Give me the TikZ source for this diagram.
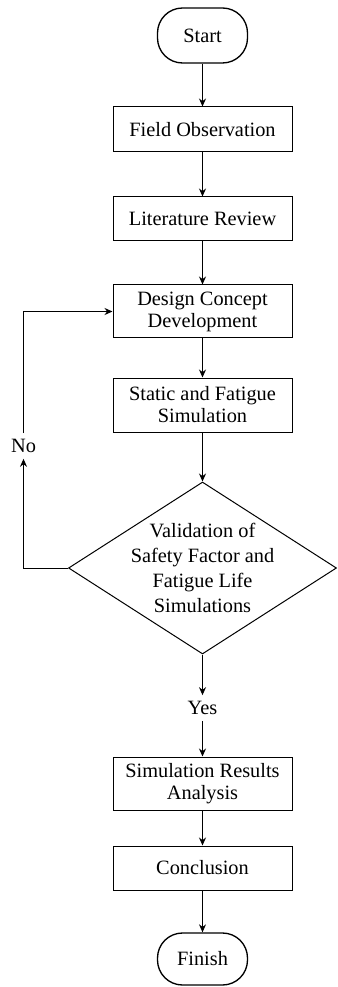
\documentclass[tikz,border=0pt]{standalone}
\usepackage{fontspec}
\setmainfont{Liberation Serif}
\usetikzlibrary{shapes.geometric,arrows.meta}

\begin{document}
\begin{tikzpicture}[x=0.6pt,y=-0.6pt,line width=0.6pt,
    every node/.style={font=\fontsize{12.2}{13.2}\selectfont},
    terminal/.style={draw,line width=0.8pt,rounded corners=15pt,minimum width=54pt,minimum height=33pt,inner sep=0pt},
    stepbox/.style={draw,align=center,minimum width=107.4pt,inner sep=0pt},
    decision/.style={draw,diamond,align=center,aspect=1.56,inner sep=-8pt,minimum width=160.8pt,minimum height=103.2pt,font=\fontsize{12.2}{15}\selectfont},
    flow/.style={-{Stealth[length=4.8pt,width=4.2pt]}}]
  \useasboundingbox (0,0) rectangle (337,987);

  \node[terminal] (start) at (202.5,35.5) {Start};
  \node[stepbox,minimum height=27pt] (field) at (202.5,129.5) {Field Observation};
  \node[stepbox,minimum height=26.4pt] (review) at (202.5,219) {Literature Review};
  \node[stepbox,minimum height=31.8pt] (design) at (202.5,311.5) {Design Concept\\Development};
  \node[stepbox,minimum height=32.4pt] (sim) at (202.5,405) {Static and Fatigue\\Simulation};
  \node[decision] (valid) at (202.5,568) {Validation of\\Safety Factor and\\Fatigue Life\\Simulations};
  \node (yes) at (202.5,708) {Yes};
  \node[stepbox,minimum height=31.8pt] (results) at (202.5,783.5) {Simulation Results\\Analysis};
  \node[stepbox,minimum height=26.4pt] (concl) at (202.5,868) {Conclusion};
  \node[terminal,minimum height=31.2pt] (finish) at (202.5,959) {Finish};
  \node (no) at (23.5,446) {No};

  \draw[flow] (start) -- (field);
  \draw[flow] (field) -- (review);
  \draw[flow] (review) -- (design);
  \draw[flow] (design) -- (sim);
  \draw[flow] (sim) -- (valid);
  \draw[flow] (valid) -- (yes);
  \draw[flow] (yes) -- (results);
  \draw[flow] (results) -- (concl);
  \draw[flow] (concl) -- (finish);
  \draw[flow] (valid.west) -| (no);
  \draw[flow] (no) |- (design.west);
\end{tikzpicture}
\end{document}
